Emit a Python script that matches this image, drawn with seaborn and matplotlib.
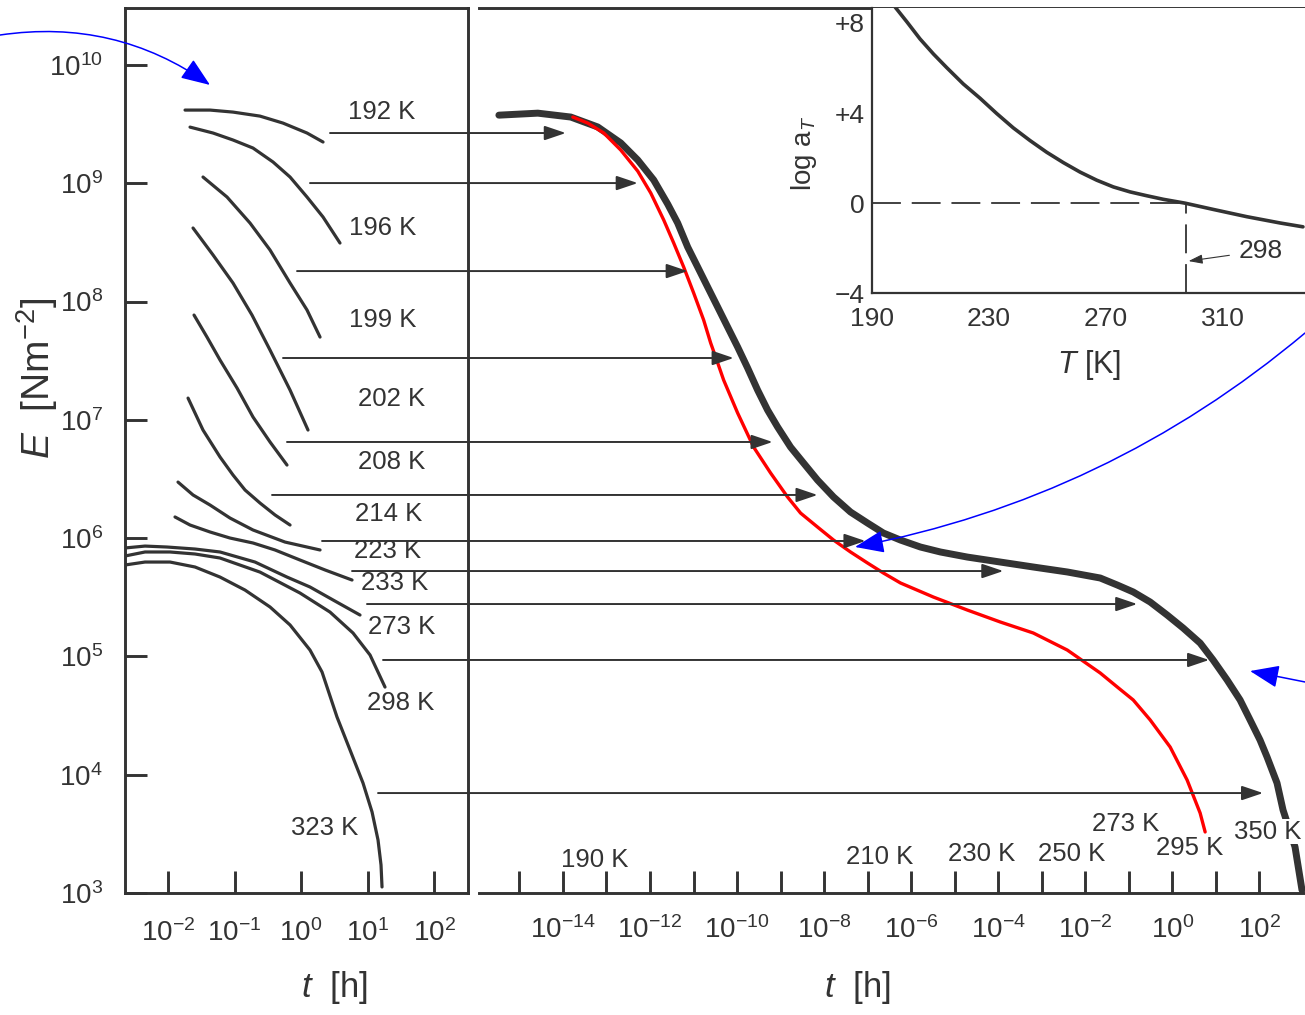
import numpy as np
import pandas as pd
import matplotlib
matplotlib.use('Agg')
import matplotlib.pyplot as plt
import seaborn as sns
from matplotlib.patches import ConnectionPatch, FancyArrowPatch
from matplotlib.ticker import NullLocator

# ---------------------------------------------------------------
# values: log10(t / h) and log10(E / N m^-2)
# ---------------------------------------------------------------
temps = ['192 K', '196 K', '199 K', '202 K', '208 K', '214 K',
         '223 K', '233 K', '273 K', '298 K', '323 K']

logt_192 = [-1.744, -1.368, -1.023, -0.617, -0.271, 0.090, 0.331]
logE_192 = [9.619, 9.619, 9.602, 9.568, 9.509, 9.425, 9.349]
logt_196 = [-1.669, -1.323, -1.023, -0.722, -0.421, -0.165, 0.090, 0.331, 0.586]
logE_196 = [9.475, 9.425, 9.366, 9.298, 9.180, 9.053, 8.884, 8.715, 8.495]
logt_199 = [-1.474, -1.113, -0.767, -0.466, -0.165, 0.090, 0.286]
logE_199 = [9.053, 8.884, 8.664, 8.436, 8.157, 7.929, 7.700]
logt_202 = [-1.624, -1.323, -1.023, -0.737, -0.466, -0.165, 0.105]
logE_202 = [8.622, 8.394, 8.157, 7.886, 7.590, 7.252, 6.914]
logt_208 = [-1.609, -1.414, -1.218, -0.962, -0.722, -0.466, -0.211]
logE_208 = [7.886, 7.700, 7.506, 7.269, 7.024, 6.813, 6.618]
logt_214 = [-1.699, -1.474, -1.218, -1.023, -0.842, -0.617, -0.391, -0.165]
logE_214 = [7.184, 6.914, 6.686, 6.534, 6.407, 6.297, 6.196, 6.111]
logt_223 = [-1.850, -1.624, -1.368, -1.068, -0.722, -0.241, 0.286]
logE_223 = [6.474, 6.365, 6.280, 6.170, 6.069, 5.967, 5.900]
logt_233 = [-1.895, -1.669, -1.368, -1.068, -0.722, -0.391, -0.015, 0.361, 0.767]
logE_233 = [6.179, 6.111, 6.052, 6.001, 5.959, 5.900, 5.815, 5.731, 5.646]
logt_273 = [-2.647, -2.346, -2.015, -1.594, -1.218, -0.692, -0.211, 0.135, 0.511, 0.887]
logE_273 = [5.917, 5.933, 5.925, 5.908, 5.883, 5.798, 5.671, 5.587, 5.468, 5.350]
logt_298 = [-2.647, -2.346, -1.970, -1.594, -1.218, -0.617, -0.015, 0.436, 0.782, 1.038, 1.263]
logE_298 = [5.849, 5.883, 5.883, 5.866, 5.832, 5.713, 5.536, 5.375, 5.198, 5.012, 4.741]
logt_323 = [-2.647, -2.346, -1.970, -1.594, -1.218, -0.842, -0.466, -0.165, 0.135,
            0.316, 0.541, 0.737, 0.932, 1.068, 1.158, 1.203, 1.218]
logE_323 = [5.773, 5.798, 5.798, 5.756, 5.671, 5.561, 5.418, 5.266, 5.054,
            4.868, 4.488, 4.209, 3.930, 3.685, 3.448, 3.237, 3.051]

# master curve (reduced to 298 K)
master_logt = [-15.473, -14.578, -13.820, -13.200, -12.672, -12.282, -11.915, -11.593,
               -11.364, -11.134, -10.904, -10.675, -10.445, -10.216, -9.986, -9.757,
               -9.527, -9.298, -9.068, -8.770, -8.471, -8.150, -7.782, -7.392, -7.002,
               -6.635, -6.244, -5.785, -5.326, -4.706, -3.949, -3.191, -2.410, -1.653,
               -1.263, -0.895, -0.505, -0.115, 0.253, 0.643, 0.941, 1.263, 1.561, 1.791,
               2.020, 2.181, 2.410, 2.548, 2.824, 2.984]
master_logE = [9.576, 9.593, 9.560, 9.476, 9.341, 9.197, 9.028, 8.824,
               8.664, 8.461, 8.292, 8.123, 7.954, 7.785, 7.616, 7.439,
               7.252, 7.083, 6.940, 6.770, 6.635, 6.491, 6.348, 6.221, 6.128,
               6.043, 5.984, 5.925, 5.883, 5.840, 5.798, 5.756, 5.714, 5.663,
               5.604, 5.545, 5.460, 5.350, 5.240, 5.113, 4.970, 4.801, 4.632, 4.463,
               4.293, 4.150, 3.930, 3.702, 3.389, 3.025]
# the red curve drawn over it
red_logt = [-13.774, -13.430, -13.062, -12.672, -12.282, -11.983, -11.685, -11.455,
            -11.226, -10.996, -10.767, -10.606, -10.491, -10.308, -9.986, -9.619,
            -9.229, -8.839, -8.540, -8.150, -7.782, -7.392, -7.002, -6.635, -6.244,
            -5.487, -4.706, -3.949, -3.191, -2.410, -1.653, -1.263, -0.895, -0.505,
            -0.046, 0.344, 0.643, 0.758]
red_logE = [9.560, 9.509, 9.425, 9.281, 9.103, 8.918, 8.690, 8.495,
            8.292, 8.072, 7.844, 7.650, 7.531, 7.337, 7.058, 6.770,
            6.551, 6.348, 6.212, 6.094, 5.984, 5.883, 5.790, 5.705, 5.621,
            5.502, 5.392, 5.291, 5.198, 5.054, 4.860, 4.742, 4.632, 4.463,
            4.234, 3.955, 3.676, 3.516]

# shift arrows: level, start (left panel), end (right panel)
arrow_logE = [9.425, 9.002, 8.258, 7.523, 6.813, 6.365, 5.976, 5.722, 5.443, 4.970, 3.845]
arrow_from_logt = [0.436, 0.135, -0.060, -0.271, -0.211, -0.436, 0.316, 0.767, 0.992, 1.233, 1.158]
arrow_to_logt = [-13.935, -12.282, -11.134, -10.078, -9.183, -8.150, -7.048, -3.880, -0.803, 0.849, 2.089]

# temperature labels
label_logt = [1.218, 1.233, 1.233, 1.368, 1.368, 1.323, 1.308, 1.414, 1.519, 1.504, 0.361]
label_logE = [9.602, 8.621, 7.844, 7.176, 6.644, 6.204, 5.891, 5.621, 5.249, 4.606, 3.549]
ref_labels = ['190 K', '210 K', '230 K', '250 K', '273 K', '295 K', '350 K']
ref_label_logt = [-13.27, -6.73, -4.38, -2.30, -1.06, 0.39, 2.20]
ref_label_logE = [3.279, 3.304, 3.330, 3.330, 3.583, 3.380, 3.516]

green_logE = 6.53
green_end_logt = -8.2

# inset: shift factor
shift_T = [197.4, 202.0, 206.5, 211.1, 215.6, 221.3, 227.0, 232.7, 238.4, 244.1, 249.8,
           255.5, 261.2, 266.9, 272.6, 278.3, 284.0, 289.7, 297.1, 306.8, 318.2, 329.6, 337.4]
log_aT = [8.80, 8.05, 7.29, 6.62, 6.02, 5.29, 4.66, 3.98, 3.34, 2.78, 2.26,
          1.80, 1.38, 1.02, 0.72, 0.50, 0.33, 0.17, 0.0, -0.28, -0.60, -0.88, -1.05]
ref_T = 297.5

# ---------------------------------------------------------------
sns.set_style('white')
plt.rcParams['font.family'] = ['Liberation Sans', 'DejaVu Sans']
plt.rcParams['mathtext.fontset'] = 'custom'
plt.rcParams['mathtext.rm'] = 'Liberation Sans'
plt.rcParams['mathtext.it'] = 'Liberation Sans:italic'
plt.rcParams['mathtext.bf'] = 'Liberation Sans:bold'

ink = '#333333'
px = 1 / 100
fig = plt.figure(figsize=(1305 * px, 1015 * px), dpi=100)

ax_l = fig.add_axes([125 / 1305, 1 - 893 / 1015, 343 / 1305, 885 / 1015])
ax_r = fig.add_axes([479 / 1305, 1 - 893 / 1015, 826 / 1305, 885 / 1015])
ax_in = fig.add_axes([871.7 / 1305, 1 - 293.3 / 1015, 433.3 / 1305, 285.3 / 1015])

for ax in (ax_l, ax_r):
    ax.set_xscale('log')
    ax.set_yscale('log')
    ax.set_ylim(1e3, 10 ** 10.482)
    ax.set_facecolor('none')
    for s in ax.spines.values():
        s.set_linewidth(2.1)
        s.set_color(ink)
ax_l.set_xlim(10 ** -2.647, 10 ** 2.511)
ax_r.set_xlim(10 ** -15.93, 10 ** 3.053)

# left panel: isothermal curves
curves = [(logt_192, logE_192), (logt_196, logE_196), (logt_199, logE_199),
          (logt_202, logE_202), (logt_208, logE_208), (logt_214, logE_214),
          (logt_223, logE_223), (logt_233, logE_233), (logt_273, logE_273),
          (logt_298, logE_298), (logt_323, logE_323)]
rows = []
for T, (lt, le) in zip(temps, curves):
    for a, b in zip(lt, le):
        rows.append((T, 10 ** a, 10 ** b))
df = pd.DataFrame(rows, columns=['T', 't', 'E'])
sns.lineplot(data=df, x='t', y='E', units='T', estimator=None, sort=False,
             color=ink, lw=2.3, ax=ax_l, legend=False,
             solid_capstyle='round', solid_joinstyle='round')

for name, a, b in zip(temps, label_logt, label_logE):
    ax_l.text(10 ** a, 10 ** b, name, ha='center', va='center', fontsize=18.5, color=ink)

ax_l.set_xticks(10.0 ** np.arange(-2, 3),
                labels=['$10^{%d}$' % k for k in range(-2, 3)])
ax_l.set_yticks(10.0 ** np.arange(3, 11),
                labels=['$10^{%d}$' % k for k in range(3, 11)])
ax_l.xaxis.set_minor_locator(NullLocator())
ax_l.yaxis.set_minor_locator(NullLocator())
ax_l.tick_params(axis='x', direction='in', length=16, width=2.1, pad=19,
                 labelsize=20, colors=ink, bottom=True, top=False)
ax_l.tick_params(axis='y', direction='in', length=16, width=2.1, pad=16,
                 labelsize=20, colors=ink, left=True, right=False)
ax_l.set_xlabel('$t$  [h]', fontsize=25, color=ink)
ax_l.xaxis.set_label_coords(0.612, -0.086)
ax_l.set_ylabel('$E$  [Nm$^{-2}$]', fontsize=28, color=ink)
ax_l.yaxis.set_label_coords(-0.19, 0.581)

# right panel: master curve
ax_r.spines['left'].set_visible(False)
ax_r.spines['right'].set_visible(False)
sns.lineplot(x=10 ** np.array(master_logt), y=10 ** np.array(master_logE), sort=False,
             estimator=None, color=ink, lw=5, ax=ax_r, zorder=2,
             solid_capstyle='round', solid_joinstyle='round')
sns.lineplot(x=10 ** np.array(red_logt), y=10 ** np.array(red_logE), sort=False,
             estimator=None, color='#ff0000', lw=2.4, ax=ax_r, zorder=3,
             solid_joinstyle='round')

for name, a, b in zip(ref_labels, ref_label_logt, ref_label_logE):
    ax_r.text(10 ** a, 10 ** b, name, ha='center', va='center', fontsize=18.5,
              color=ink, zorder=4,
              bbox=dict(fc='white', ec='none', pad=0.3) if name == '350 K' else None)

rk = np.arange(-15, 3)
ax_r.set_xticks(10.0 ** rk, labels=['$10^{%d}$' % k if k % 2 == 0 else '' for k in rk])
ax_r.xaxis.set_minor_locator(NullLocator())
ax_r.yaxis.set_minor_locator(NullLocator())
ax_r.set_yticks([])
ax_r.tick_params(axis='x', direction='in', length=16, width=2.1, pad=17,
                 labelsize=20, colors=ink, bottom=True, top=False)
ax_r.set_xlabel('$t$  [h]', fontsize=25, color=ink)
ax_r.xaxis.set_label_coords(0.458, -0.086)

# horizontal shift arrows from the isotherms to the master curve
for e, a, b in zip(arrow_logE, arrow_from_logt, arrow_to_logt):
    con = ConnectionPatch(xyA=(10 ** a, 10 ** e), coordsA='data', axesA=ax_l,
                          xyB=(10 ** b, 10 ** e), coordsB='data', axesB=ax_r,
                          arrowstyle='-|>,head_length=0.65,head_width=0.22',
                          mutation_scale=20, lw=1.4, color=ink)
    fig.add_artist(con)

green = ConnectionPatch(xyA=(10 ** -2.72, 10 ** green_logE), coordsA='data', axesA=ax_l,
                        xyB=(10 ** green_end_logt, 10 ** green_logE), coordsB='data',
                        axesB=ax_r, color='#4fa84f', lw=1.2, linestyle=(0, (23, 23)))
fig.add_artist(green)

# inset: log a_T versus T
ax_in.set_facecolor('white')
ax_in.set_xlim(190, 338.1)
ax_in.set_ylim(-4, 8.66)
for side in ('top', 'right'):
    ax_in.spines[side].set_visible(False)
for side in ('left', 'bottom'):
    ax_in.spines[side].set_linewidth(1.6)
    ax_in.spines[side].set_color(ink)
sns.lineplot(x=shift_T, y=log_aT, sort=False, estimator=None, color=ink, lw=2.6, ax=ax_in,
             solid_joinstyle='round')
ax_in.plot([190, ref_T], [0, 0], color=ink, lw=1.3, ls=(0, (16, 6)))
ax_in.plot([ref_T, ref_T], [-4, 0], color=ink, lw=1.3, ls=(0, (16, 6)))
ax_in.annotate('298', xy=(ref_T + 0.8, -2.57), xytext=(322.8, -2.12),
               ha='center', va='center', fontsize=19, color=ink,
               arrowprops=dict(arrowstyle='-|>,head_length=0.6,head_width=0.2',
                               mutation_scale=14, lw=0.8, color=ink, shrinkA=4, shrinkB=0))
ax_in.set_xticks([190, 230, 270, 310])
ax_in.set_yticks([-4, 0, 4, 8], labels=['\u22124', '0', '+4', '+8'])
ax_in.tick_params(axis='both', direction='in', length=14, width=1.6,
                  labelsize=19, colors=ink)
ax_in.tick_params(axis='x', pad=10)
ax_in.tick_params(axis='y', pad=5)
ax_in.set_xlabel('$T$ [K]', fontsize=22, color=ink)
ax_in.xaxis.set_label_coords(0.501, -0.19)
ax_in.set_ylabel('log a$_T$', fontsize=20, color=ink)
ax_in.yaxis.set_label_coords(-0.122, 0.49)

# blue pointer arrows drawn over the slide
blue = dict(transform=fig.transFigure, color='#0000ff', lw=1.1, shrinkA=0, shrinkB=0,
            arrowstyle='-|>,head_length=0.9,head_width=0.35', mutation_scale=20)
fig.add_artist(FancyArrowPatch((0.0, 0.9655), (0.1609, 0.9163),
                               connectionstyle='arc3,rad=-0.2', **blue))
fig.add_artist(FancyArrowPatch((1.0, 0.6719), (0.6552, 0.4611),
                               connectionstyle='arc3,rad=-0.13', **blue))
fig.add_artist(FancyArrowPatch((1.0, 0.3281), (0.9579, 0.3389), **blue))

fig.savefig('out.png', dpi=100, facecolor='white')
